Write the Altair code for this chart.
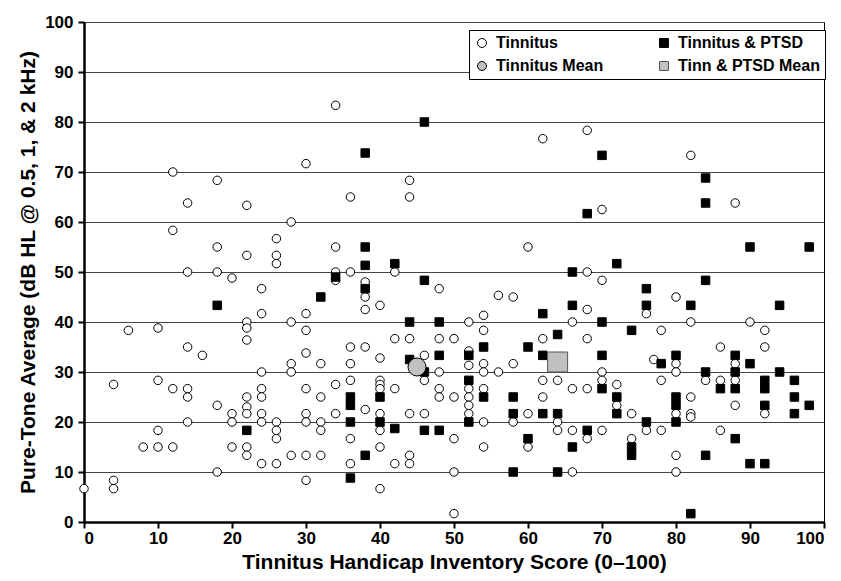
import altair as alt
import pandas as pd

# Tinnitus (circles)
tin_x = [0, 4, 4, 4, 8, 10, 10, 10, 12, 12, 14, 14, 14, 14, 16, 18, 18, 20, 20, 20,
         18, 14, 12, 18, 14, 18, 20, 6, 10, 12,
         34, 30, 44, 36, 44,
         22, 28, 26, 22, 26, 26, 34, 42, 36, 34, 34, 24, 38, 38, 38, 40, 22, 22, 22, 24, 28, 30, 30, 30, 42, 44, 36, 38, 40, 46,
         62, 68, 82,
         70, 60, 68, 70, 48, 56, 58, 68, 52, 54, 54, 66, 48, 50, 62, 68, 52,
         88, 76, 80, 78, 82, 90, 92, 86, 92,
         22, 22, 22, 22, 22, 24, 24, 24, 24, 24, 24, 26, 26, 26, 26, 28, 28, 28, 30, 30, 30, 30, 30,
         32, 32, 32, 32, 32, 34, 34, 36, 36, 36, 36, 38, 40, 40, 40, 40, 40, 40, 40, 42, 42, 44, 44, 44, 46, 46,
         48, 48, 48, 50, 50, 50, 50, 52, 52, 52, 52, 52, 54, 54, 54, 54, 54, 56, 58, 58, 60, 60, 62, 62,
         64, 64, 64, 66, 66, 66, 68, 68, 70, 70, 70, 72,
         77, 80, 80, 88, 72, 74, 74, 78, 76, 78, 80, 80, 80, 82, 82, 82, 84, 86, 86, 88, 88, 92]
tin_y = [6.67, 27.5, 8.33, 6.67, 15, 28.33, 18.33, 15, 26.67, 15, 35, 26.67, 25, 20, 33.33, 23.33, 10, 21.67, 20, 15,
         68.33, 63.8, 58.33, 55, 50, 50, 48.8, 38.33, 38.8, 70,
         83.33, 71.67, 68.33, 65, 65,
         63.33, 60, 56.67, 53.33, 53.33, 51.67, 55, 50, 50, 50, 48.33, 46.67, 48, 45, 42.5, 43.33, 40, 38.8, 36.4, 41.67, 40, 41.67, 38.33, 33.8, 36.67, 36.67, 35, 35, 32.8, 33.33,
         76.67, 78.33, 73.33,
         62.5, 55, 50, 48.33, 46.67, 45.33, 45, 42.5, 40, 41.33, 38.33, 40, 36.67, 36.67, 36.67, 36.67, 34.2,
         63.8, 41.67, 45, 38.33, 40, 40, 38.33, 35, 35,
         25, 23.0, 21.67, 15, 13.33, 30, 26.67, 25, 21.67, 20, 11.67, 20, 18.33, 16.67, 11.67, 31.67, 30, 13.33, 26.67, 21.67, 20, 13.33, 8.33,
         31.67, 25, 20, 18.33, 13.33, 27.5, 21.67, 31.67, 28.33, 16.67, 11.67, 22.5, 28.33, 27.5, 26.67, 21.67, 18.33, 15, 6.67, 26.67, 11.67, 21.67, 13.33, 11.67, 28.33, 21.67,
         30, 26.67, 25, 25, 16.67, 10, 1.67, 31.33, 26.67, 25, 23.33, 21.67, 31.67, 30, 26.67, 20, 15, 30, 31.67, 20, 21.67, 15, 28.33, 25,
         28.33, 20, 18.33, 26.67, 18.33, 10, 26.67, 16.67, 30, 28.33, 18.33, 27.5,
         32.5, 31.67, 30, 31.67, 23.33, 21.67, 16.67, 28.33, 18.33, 18.33, 21.67, 13.33, 10, 25, 21.67, 21, 28.33, 28.33, 18.33, 28.33, 23.33, 21.67]

# Tinnitus & PTSD (squares)
pt_x = [18, 46, 38, 34, 38, 38, 42, 46, 38, 32, 44, 44, 68, 72, 66, 62, 66, 48, 70, 64, 54, 60, 48, 52, 62, 70,
        70, 84, 84, 90, 98, 84, 76, 76, 82, 94, 74, 80, 88,
        22, 36, 36, 36, 36, 38, 40, 40, 42, 46, 46, 48, 52, 52, 54, 58, 58, 58, 60, 62, 64, 64, 66, 68, 70,
        72, 72, 78, 74, 74, 76, 80, 80, 80, 82, 84, 84, 86, 88, 88, 88, 90, 90, 92, 92, 92, 92, 94, 96, 96, 96, 98]
pt_y = [43.33, 80, 73.8, 49, 55, 51.33, 51.67, 48.33, 46.67, 45, 40, 32.5, 61.67, 51.67, 50, 41.67, 43.33, 40, 40, 37.5, 35, 35, 33.33, 33.33, 33.33, 33.33,
        73.33, 68.8, 63.8, 55, 55, 48.33, 46.67, 43.33, 43.33, 43.33, 38.33, 33.33, 33.33,
        18.33, 25, 23.33, 20, 8.8, 13.33, 25, 20, 18.7, 18.33, 30, 18.33, 28.33, 20, 25, 25, 21.67, 10, 16.67, 21.67, 21.67, 10, 15, 18.33, 26.67,
        25, 21.67, 31.67, 15, 13.33, 20, 25, 23.33, 20, 1.67, 30, 13.33, 26.67, 30, 26.67, 16.67, 11.67, 31.67, 28.33, 26.67, 23.33, 11.67, 30, 28.33, 25, 21.67, 23.33]

# Group means
mean_tin = (45, 31)
mean_pt = (64, 32)

TIN, PT, TIN_M, PT_M = "Tinnitus", "Tinnitus & PTSD", "Tinnitus Mean", "Tinn & PTSD Mean"
# legend is filled column by column: left column first
order = [TIN, TIN_M, PT, PT_M]

rows = []
for x, y in zip(tin_x, tin_y):
    rows.append({"x": x, "y": y, "series": TIN})
for x, y in zip(pt_x, pt_y):
    rows.append({"x": x, "y": y, "series": PT})
rows.append({"x": mean_tin[0], "y": mean_tin[1], "series": TIN_M})
rows.append({"x": mean_pt[0], "y": mean_pt[1], "series": PT_M})
df = pd.DataFrame(rows)

FONT = "Liberation Sans"

legend = alt.Legend(
    title=None, orient="none", legendX=385, legendY=8, columns=2,
    columnPadding=52, rowPadding=7, padding=5,
    labelFont=FONT, labelFontSize=16, labelFontWeight="bold", labelColor="black",
    labelOffset=6, labelLimit=300, symbolSize=80, symbolStrokeWidth=1,
    strokeColor="black", fillColor="white",
)

base = alt.Chart(df).encode(
    x=alt.X("x:Q", scale=alt.Scale(domain=[0, 100], nice=False),
            axis=alt.Axis(values=list(range(0, 101, 10)), grid=False,
                          title="Tinnitus Handicap Inventory Score (0–100)")),
    y=alt.Y("y:Q", scale=alt.Scale(domain=[0, 100], nice=False),
            axis=alt.Axis(values=list(range(0, 101, 10)), grid=True,
                          title="Pure-Tone Average (dB HL @ 0.5, 1, & 2 kHz)")),
    shape=alt.Shape("series:N", scale=alt.Scale(domain=order, range=["circle", "circle", "square", "square"]), legend=legend),
    fill=alt.Fill("series:N", scale=alt.Scale(domain=order, range=["white", "#c0c0c0", "black", "#c0c0c0"]), legend=legend),
    stroke=alt.Stroke("series:N", scale=alt.Scale(domain=order, range=["black", "black", "black", "#555555"]), legend=legend),
)

pts = base.transform_filter(
    alt.FieldOneOfPredicate(field="series", oneOf=[TIN, PT])
).mark_point(filled=True, opacity=1, strokeWidth=1, size=72)
m_tin = base.transform_filter(
    alt.FieldEqualPredicate(field="series", equal=TIN_M)
).mark_point(filled=True, opacity=1, strokeWidth=1, size=324)
m_pt = base.transform_filter(
    alt.FieldEqualPredicate(field="series", equal=PT_M)
).mark_point(filled=True, opacity=1, strokeWidth=1, size=400)

chart = alt.layer(pts, m_tin, m_pt).properties(
    width=740, height=500,
    autosize=alt.AutoSizeParams(type="none"),
    padding={"left": 76, "top": 14, "right": 9, "bottom": 51},
).configure_view(
    stroke="black", strokeWidth=1
).configure_axis(
    labelFont=FONT, labelFontSize=17, labelFontWeight="bold", labelColor="black",
    titleFont=FONT, titleFontSize=21, titleFontWeight="bold", titleColor="black",
    domainColor="black", domainWidth=2.5, tickColor="black", tickWidth=2, tickSize=6,
    gridColor="#444444", gridWidth=1,
).configure_axisY(titlePadding=6, labelPadding=5).configure_axisX(titlePadding=5, labelPadding=2)

chart.save("out.html", embed_options={"renderer": "svg", "actions": False})
